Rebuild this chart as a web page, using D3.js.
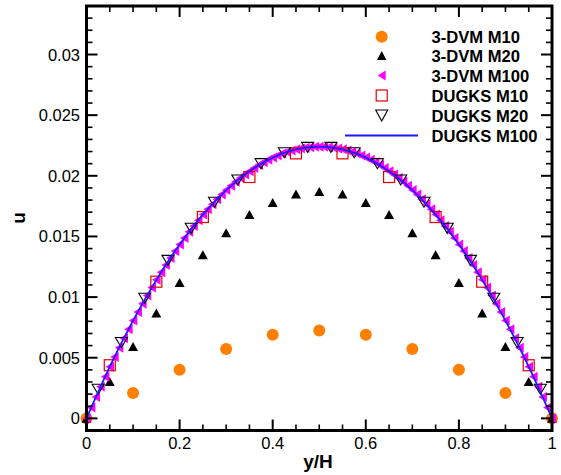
<!DOCTYPE html>
<html><head><meta charset="utf-8">
<script src="https://cdn.jsdelivr.net/npm/d3@7"></script>
<style>body{margin:0;background:#fff}svg{display:block}text{font-family:"Liberation Sans",Arial,sans-serif}</style>
</head><body><svg id="c" width="561" height="475"></svg>
<script>
// ---- data ----
const xTickLabels = ["0","0.2","0.4","0.6","0.8","1"];
const xTickValues = [0,0.2,0.4,0.6,0.8,1];
const yTickLabels = ["0","0.005","0.01","0.015","0.02","0.025","0.03"];
const yTickValues = [0,0.005,0.01,0.015,0.02,0.025,0.03];

const seriesNames = ["3-DVM M10","3-DVM M20","3-DVM M100","DUGKS M10","DUGKS M20","DUGKS M100"];

const dvmM10x = [0,0.1,0.2,0.3,0.4,0.5,0.6,0.7,0.8,0.9,1];
const dvmM10u = [0,0.00209,0.00401,0.00571,0.00689,0.00725,0.00689,0.00571,0.00401,0.00209,0];

const dvmM20x = [0,0.05,0.1,0.15,0.2,0.25,0.3,0.35,0.4,0.45,0.5,0.55,0.6,0.65,0.7,0.75,0.8,0.85,0.9,0.95,1];
const dvmM20u = [0,0.00305,0.00593,0.00868,0.0112,0.0135,0.0153,0.0168,0.0178,0.0185,0.0187,0.0185,0.0178,0.0168,0.0153,0.0135,0.0112,0.00868,0.00593,0.00305,0];

const dvmM100x = [0,0.01,0.02,0.03,0.04,0.05,0.06,0.07,0.08,0.09,0.1,0.11,0.12,0.13,0.14,0.15,0.16,0.17,0.18,0.19,0.2,0.21,0.22,0.23,0.24,0.25,0.26,0.27,0.28,0.29,0.3,0.31,0.32,0.33,0.34,0.35,0.36,0.37,0.38,0.39,0.4,0.41,0.42,0.43,0.44,0.45,0.46,0.47,0.48,0.49,0.5,0.51,0.52,0.53,0.54,0.55,0.56,0.57,0.58,0.59,0.6,0.61,0.62,0.63,0.64,0.65,0.66,0.67,0.68,0.69,0.7,0.71,0.72,0.73,0.74,0.75,0.76,0.77,0.78,0.79,0.8,0.81,0.82,0.83,0.84,0.85,0.86,0.87,0.88,0.89,0.9,0.91,0.92,0.93,0.94,0.95,0.96,0.97,0.98,0.99,1];
const dvmM100u = [0,0.00089,0.00176,0.00261,0.00344,0.00426,0.00505,0.00583,0.0066,0.00734,0.00806,0.00877,0.00946,0.01013,0.01079,0.01142,0.01204,0.01264,0.01323,0.01379,0.01434,0.01487,0.01538,0.01587,0.01634,0.0168,0.01724,0.01766,0.01806,0.01845,0.01882,0.01917,0.0195,0.01981,0.02011,0.02038,0.02064,0.02089,0.02111,0.02132,0.0215,0.02167,0.02183,0.02196,0.02208,0.02218,0.02226,0.02232,0.02236,0.02239,0.0224,
0.02239,0.02236,0.02232,0.02226,0.02218,0.02208,0.02196,0.02183,0.02167,0.0215,0.02132,0.02111,0.02089,0.02064,0.02038,0.02011,0.01981,0.0195,0.01917,0.01882,0.01845,0.01806,0.01766,0.01724,0.0168,0.01634,0.01587,0.01538,0.01487,0.01434,0.01379,0.01323,0.01264,0.01204,0.01142,0.01079,0.01013,0.00946,0.00877,0.00806,0.00734,0.0066,0.00583,0.00505,0.00426,0.00344,0.00261,0.00176,0.00089,0];

const dugksM10x = [0.05,0.15,0.25,0.35,0.45,0.55,0.65,0.75,0.85,0.95];
const dugksM10u = [0.00438,0.01127,0.0166,0.0199,0.02185,0.02185,0.0199,0.0166,0.01127,0.00438];

const dugksM20x = [0.025,0.075,0.125,0.175,0.225,0.275,0.325,0.375,0.425,0.475,0.525,0.575,0.625,0.675,0.725,0.775,0.825,0.875,0.925,0.975];
const dugksM20u = [0.0024,0.00626,0.0099,0.01303,0.01567,0.01782,0.01965,0.021,0.0219,0.02234,0.02234,0.0219,0.021,0.01965,0.01782,0.01567,0.01303,0.0099,0.00626,0.0024];

const dugksM100x = [0,0.05,0.1,0.15,0.2,0.25,0.3,0.35,0.4,0.45,0.5,0.55,0.6,0.65,0.7,0.75,0.8,0.85,0.9,0.95,1];
const dugksM100u = [0,0.00426,0.00806,0.01142,0.01434,0.0168,0.01882,0.02038,0.0215,0.02218,0.0224,0.02218,0.0215,0.02038,0.01882,0.0168,0.01434,0.01142,0.00806,0.00426,0];

// ---- chart ----
const svg = d3.select("#c");
const L = 86.5, R = 552, T = 6, B = 430.5;
const x = d3.scaleLinear().domain([0,1]).range([L,R]);
const y = d3.scaleLinear().domain([-0.001,0.034]).range([B,T]);

const zip = (xs, us) => xs.map((v,i)=>[v,us[i]]);

const tri = (cx,cy,w,h,dir) => {
  if (dir==="up") return `M${cx},${cy-h/2}L${cx+w/2},${cy+h/2}L${cx-w/2},${cy+h/2}Z`;
  if (dir==="down") return `M${cx-w/2},${cy-h/2}L${cx+w/2},${cy-h/2}L${cx},${cy+h/2}Z`;
  return `M${cx-w/2},${cy}L${cx+w/2},${cy-h/2}L${cx+w/2},${cy+h/2}Z`; // left
};

const g = svg.append("g");
// 3-DVM M10
g.selectAll(".c10").data(zip(dvmM10x,dvmM10u)).join("circle")
  .attr("cx",d=>x(d[0])).attr("cy",d=>y(d[1])).attr("r",6).attr("fill","#ff8000");
// 3-DVM M20
g.selectAll(".t20").data(zip(dvmM20x,dvmM20u)).join("path")
  .attr("d",d=>tri(x(d[0]),y(d[1]),10,9,"up")).attr("fill","#000");
// 3-DVM M100
g.selectAll(".t100").data(zip(dvmM100x,dvmM100u)).join("path")
  .attr("d",d=>tri(x(d[0]),y(d[1]),8.5,10,"left")).attr("fill","#ff00ff");
// DUGKS M10
g.selectAll(".s10").data(zip(dugksM10x,dugksM10u)).join("rect")
  .attr("x",d=>x(d[0])-5.5).attr("y",d=>y(d[1])-5.5).attr("width",11).attr("height",11)
  .attr("fill","none").attr("stroke","#e00000").attr("stroke-width",1.2);
// DUGKS M20
g.selectAll(".d20").data(zip(dugksM20x,dugksM20u)).join("path")
  .attr("d",d=>tri(x(d[0]),y(d[1]),12,10,"down")).attr("fill","none").attr("stroke","#000").attr("stroke-width",1.1);
// DUGKS M100
g.append("path").datum(zip(dugksM100x,dugksM100u))
  .attr("d",d3.line().x(d=>x(d[0])).y(d=>y(d[1])).curve(d3.curveNatural))
  .attr("fill","none").attr("stroke","#1a1aff").attr("stroke-width",1.8);

// ---- axes (ticks inward on all four sides) ----
const ax = svg.append("g");
const xMinor = d3.range(0,1.0001,0.05).filter(v=>!xTickValues.some(t=>Math.abs(t-v)<1e-6));
const yMinor = d3.range(0.001,0.0335,0.001).filter(v=>!yTickValues.some(t=>Math.abs(t-v)<1e-7));

function xTicks(vals,len,w){
  vals.forEach(v=>{
    ax.append("line").attr("x1",x(v)).attr("x2",x(v)).attr("y1",B).attr("y2",B-len).attr("stroke","#000").attr("stroke-width",w);
    ax.append("line").attr("x1",x(v)).attr("x2",x(v)).attr("y1",T).attr("y2",T+len).attr("stroke","#000").attr("stroke-width",w);
  });
}
function yTicks(vals,len,w){
  vals.forEach(v=>{
    ax.append("line").attr("y1",y(v)).attr("y2",y(v)).attr("x1",L).attr("x2",L+len).attr("stroke","#000").attr("stroke-width",w);
    ax.append("line").attr("y1",y(v)).attr("y2",y(v)).attr("x1",R).attr("x2",R-len).attr("stroke","#000").attr("stroke-width",w);
  });
}
xTicks(xMinor,6,1.6); xTicks(xTickValues,11,2);
yTicks(yMinor,6,1.6); yTicks(yTickValues,11,2);

ax.append("rect").attr("x",L).attr("y",T).attr("width",R-L).attr("height",B-T)
  .attr("fill","none").attr("stroke","#000").attr("stroke-width",3);

xTickValues.forEach((v,i)=>{
  ax.append("text").attr("x",x(v)).attr("y",449).attr("text-anchor","middle")
    .attr("font-size",16.5).text(xTickLabels[i]);
});
yTickValues.forEach((v,i)=>{
  ax.append("text").attr("x",80).attr("y",y(v)+6).attr("text-anchor","end")
    .attr("font-size",16.5).text(yTickLabels[i]);
});
svg.append("text").attr("x",318).attr("y",468).attr("text-anchor","middle")
  .attr("font-size",19).attr("font-weight","bold").text("y/H");
svg.append("text").attr("transform","translate(25,218) rotate(-90)").attr("text-anchor","middle")
  .attr("font-size",19).attr("font-weight","bold").text("u");

// ---- legend ----
const lg = svg.append("g");
const rowY = [36.7,55.5,75.5,95.5,115.5,135.5];
const sx = 381.7;
lg.append("circle").attr("cx",sx).attr("cy",rowY[0]).attr("r",6).attr("fill","#ff8000");
lg.append("path").attr("d",tri(sx,rowY[1],9.5,9,"up")).attr("fill","#000");
lg.append("path").attr("d",tri(sx,rowY[2],8,10,"left")).attr("fill","#ff00ff");
lg.append("rect").attr("x",sx-5.5).attr("y",rowY[3]-5.5).attr("width",11).attr("height",11)
  .attr("fill","none").attr("stroke","#e00000").attr("stroke-width",1.2);
lg.append("path").attr("d",tri(sx,rowY[4],12,11,"down")).attr("fill","none").attr("stroke","#000").attr("stroke-width",1.1);
lg.append("line").attr("x1",345).attr("x2",418).attr("y1",rowY[5]).attr("y2",rowY[5]).attr("stroke","#1a1aff").attr("stroke-width",1.8);
seriesNames.forEach((n,i)=>{
  lg.append("text").attr("x",431.5).attr("y",rowY[i]+6).attr("font-size",16.6).attr("font-weight","bold").text(n);
});
</script></body></html>
